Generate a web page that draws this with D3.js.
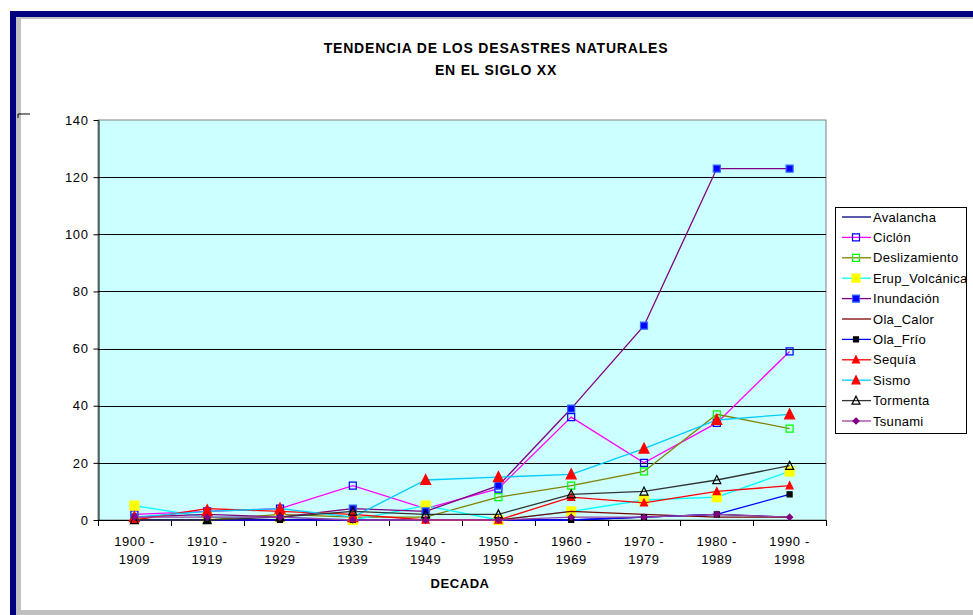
<!DOCTYPE html>
<html>
<head>
<meta charset="utf-8">
<script src="https://cdn.jsdelivr.net/npm/d3@7"></script>
<style>
  html, body { margin: 0; padding: 0; background: #fff; }
  svg { display: block; }
  text { font-family: "Liberation Sans", Arial, sans-serif; fill: #000; }
</style>
</head>
<body>
<svg id="chart" width="973" height="615"></svg>
<script>
// Decades on the category axis
const decades = ["1900 - 1909", "1910 - 1919", "1920 - 1929", "1930 - 1939", "1940 - 1949",
                 "1950 - 1959", "1960 - 1969", "1970 - 1979", "1980 - 1989", "1990 - 1998"];

// Number of events per decade, one array per disaster type
const avalancha     = [0, 0, 0, 0, 0, 0, 0, 1, 2, 1];
const ciclon        = [2, 3, 4, 12, 4, 11, 36, 20, 34, 59];
const deslizamiento = [0, 0, 2, 1, 1, 8, 12, 17, 37, 32];
const erupVolcanica = [5, 1, 1, 0, 5, 0, 3, 7, 8, 17];
const inundacion    = [1, 2, 1, 4, 3, 12, 39, 68, 123, 123];
const olaCalor      = [0, 0, 0, 0, 0, 0, 3, 2, 1, 1];
const olaFrio       = [0, 0, 0, 0, 0, 0, 0, 1, 2, 9];
const sequia        = [0, 4, 3, 2, 0, 0, 8, 6, 10, 12];
const sismo         = [1, 3, 4, 1, 14, 15, 16, 25, 35, 37];
const tormenta      = [0, 0, 1, 3, 2, 2, 9, 10, 14, 19];
const tsunami       = [1, 1, 1, 0, 0, 0, 1, 1, 2, 1];

const yTicks = [0, 20, 40, 60, 80, 100, 120, 140];

// Series names, values and drawing styles
const series = [
  { name: "Avalancha",      values: avalancha,     line: "#000080", marker: null },
  { name: "Ciclón",         values: ciclon,        line: "#ff00ff", marker: { shape: "square", size: 7, fill: "none", stroke: "#0000ff" } },
  { name: "Deslizamiento",  values: deslizamiento, line: "#808000", marker: { shape: "square", size: 7, fill: "none", stroke: "#00ff00" } },
  { name: "Erup_Volcánica", values: erupVolcanica, line: "#00ffff", marker: { shape: "square", size: 9, fill: "#ffff00", stroke: "#ffff00" } },
  { name: "Inundación",     values: inundacion,    line: "#800080", marker: { shape: "square", size: 7, fill: "#0000ff", stroke: "#3366ff" } },
  { name: "Ola_Calor",      values: olaCalor,      line: "#800000", marker: null },
  { name: "Ola_Frío",       values: olaFrio,       line: "#0000ff", marker: { shape: "square", size: 5, fill: "#000", stroke: "#000" } },
  { name: "Sequía",         values: sequia,        line: "#ff0000", marker: { shape: "triangle", size: 7, fill: "#ff0000", stroke: "#ff0000" } },
  { name: "Sismo",          values: sismo,         line: "#00ccff", marker: { shape: "triangle", size: 10, fill: "#ff0000", stroke: "#ff0000" } },
  { name: "Tormenta",       values: tormenta,      line: "#333333", marker: { shape: "triangle", size: 8, fill: "none", stroke: "#000" } },
  { name: "Tsunami",        values: tsunami,       line: "#a040a0", marker: { shape: "diamond", size: 6, fill: "#800080", stroke: "#800080" } }
];

const svg = d3.select("#chart");

// Window frame around the chart object
const frame = svg.append("g");
frame.append("rect").attr("x", 10).attr("y", 11).attr("width", 963).attr("height", 6).attr("fill", "#000080");
frame.append("rect").attr("x", 10).attr("y", 11).attr("width", 6).attr("height", 604).attr("fill", "#000080");
frame.append("rect").attr("x", 16).attr("y", 17).attr("width", 957).attr("height", 2).attr("fill", "#c0c0c0");
frame.append("rect").attr("x", 16).attr("y", 17).attr("width", 5).attr("height", 598).attr("fill", "#c0c0c0");
frame.append("rect").attr("x", 16).attr("y", 610).attr("width", 957).attr("height", 5).attr("fill", "#c0c0c0");
frame.append("path").attr("d", "M18,118V114H30").attr("fill", "none").attr("stroke", "#000").attr("stroke-width", 1);

// Plot area
const plot = { left: 98, right: 826, top: 120, bottom: 520 };

const xBand = d3.scaleBand().domain(decades).range([plot.left, plot.right]).padding(0);
const xc = d => xBand(d) + xBand.bandwidth() / 2;
const y = d3.scaleLinear().domain([0, 140]).range([plot.bottom, plot.top]);

svg.append("rect")
  .attr("x", plot.left).attr("y", plot.top)
  .attr("width", plot.right - plot.left).attr("height", plot.bottom - plot.top)
  .attr("fill", "#ccffff").attr("stroke", "#808080").attr("stroke-width", 1);

// Horizontal gridlines
svg.append("g").selectAll("line")
  .data(yTicks.filter(v => v > 0 && v < 140))
  .join("line")
  .attr("x1", plot.left).attr("x2", plot.right)
  .attr("y1", d => Math.round(y(d)) + 0.5).attr("y2", d => Math.round(y(d)) + 0.5)
  .attr("stroke", "#000").attr("stroke-width", 1);

// Y axis
const yAxis = svg.append("g")
  .attr("transform", `translate(${plot.left + 0.5},0)`)
  .call(d3.axisLeft(y).tickValues(yTicks).tickSize(5).tickPadding(5).tickSizeOuter(0));
yAxis.select(".domain").attr("stroke", "#000");
yAxis.selectAll(".tick line").attr("stroke", "#000");
yAxis.selectAll(".tick text").attr("font-size", 13).attr("letter-spacing", 0.6)
  .attr("font-family", "Liberation Sans, Arial, sans-serif").attr("fill", "#000");

// X axis: ticks on category boundaries
const bounds = decades.map(d => xBand(d)).concat([plot.right]);
svg.append("line")
  .attr("x1", plot.left).attr("x2", plot.right)
  .attr("y1", plot.bottom + 0.5).attr("y2", plot.bottom + 0.5)
  .attr("stroke", "#000");
svg.append("g").selectAll("line").data(bounds).join("line")
  .attr("x1", d => Math.round(d) + 0.5).attr("x2", d => Math.round(d) + 0.5)
  .attr("y1", plot.bottom).attr("y2", plot.bottom + 6)
  .attr("stroke", "#000");

const xLabels = svg.append("g").selectAll("text").data(decades).join("text")
  .attr("x", d => xc(d)).attr("y", plot.bottom + 26)
  .attr("text-anchor", "middle").attr("font-size", 13).attr("letter-spacing", 0.6);
xLabels.append("tspan").attr("x", d => xc(d)).text(d => d.split(" - ")[0] + " -");
xLabels.append("tspan").attr("x", d => xc(d)).attr("dy", 18).text(d => d.split(" - ")[1]);

// Series lines and markers
const line = d3.line().x((v, i) => xc(decades[i])).y(v => y(v));

function markerPath(shape, s) {
  const h = s / 2;
  if (shape === "square") return `M${-h},${-h}H${h}V${h}H${-h}Z`;
  if (shape === "triangle") return `M0,${-h * 1.1}L${h},${h * 0.9}L${-h},${h * 0.9}Z`;
  if (shape === "diamond") return `M0,${-h}L${h},0L0,${h}L${-h},0Z`;
  return "";
}

const seriesG = svg.append("g");
series.forEach(s => {
  const g = seriesG.append("g");
  g.append("path").attr("d", line(s.values))
    .attr("fill", "none").attr("stroke", s.line).attr("stroke-width", 1.3);
  if (s.marker) {
    g.selectAll("path.m").data(s.values).join("path").attr("class", "m")
      .attr("transform", (v, i) => `translate(${xc(decades[i])},${y(v)})`)
      .attr("d", markerPath(s.marker.shape, s.marker.size))
      .attr("fill", s.marker.fill).attr("stroke", s.marker.stroke).attr("stroke-width", 1.2);
  }
});

// Titles
svg.append("text").attr("x", 496).attr("y", 53).attr("text-anchor", "middle")
  .attr("font-size", 14).attr("letter-spacing", 0.8).attr("font-weight", "bold")
  .text("TENDENCIA DE LOS DESASTRES NATURALES");
svg.append("text").attr("x", 496).attr("y", 75).attr("text-anchor", "middle")
  .attr("font-size", 14).attr("letter-spacing", 0.8).attr("font-weight", "bold")
  .text("EN EL SIGLO XX");
svg.append("text").attr("x", 460).attr("y", 588).attr("text-anchor", "middle")
  .attr("font-size", 13).attr("letter-spacing", 0.6).attr("font-weight", "bold").text("DECADA");

svg.append("clipPath").attr("id", "ylabClip")
  .append("rect").attr("x", 30).attr("y", 247).attr("width", 40).attr("height", 200);
svg.append("text").attr("clip-path", "url(#ylabClip)")
  .attr("transform", "translate(53,390) rotate(-90)")
  .attr("font-size", 12.5).attr("letter-spacing", 0.5).attr("font-weight", "bold").text("NUMERO DE EVENTOS");

// Legend
const legend = { x: 835, y: 207, w: 131, h: 226 };
svg.append("clipPath").attr("id", "legClip")
  .append("rect").attr("x", legend.x).attr("y", legend.y).attr("width", legend.w).attr("height", legend.h);
svg.append("rect").attr("x", legend.x + 0.5).attr("y", legend.y + 0.5)
  .attr("width", legend.w).attr("height", legend.h).attr("fill", "#fff").attr("stroke", "#000");
const rowH = 20.4;
const lg = svg.append("g").attr("clip-path", "url(#legClip)");
const rows = lg.selectAll("g").data(series).join("g")
  .attr("transform", (d, i) => `translate(${legend.x},${legend.y + 10 + i * rowH})`);
rows.append("line").attr("x1", 7).attr("x2", 36).attr("y1", 0).attr("y2", 0)
  .attr("stroke", d => d.line).attr("stroke-width", 1.3);
rows.filter(d => d.marker).append("path")
  .attr("transform", "translate(21,0)")
  .attr("d", d => markerPath(d.marker.shape, Math.min(d.marker.size, 8)))
  .attr("fill", d => d.marker.fill).attr("stroke", d => d.marker.stroke).attr("stroke-width", 1.2);
rows.append("text").attr("x", 38).attr("y", 4.5).attr("font-size", 13).attr("letter-spacing", 0.3)
  .text(d => d.name);
</script>
</body>
</html>
